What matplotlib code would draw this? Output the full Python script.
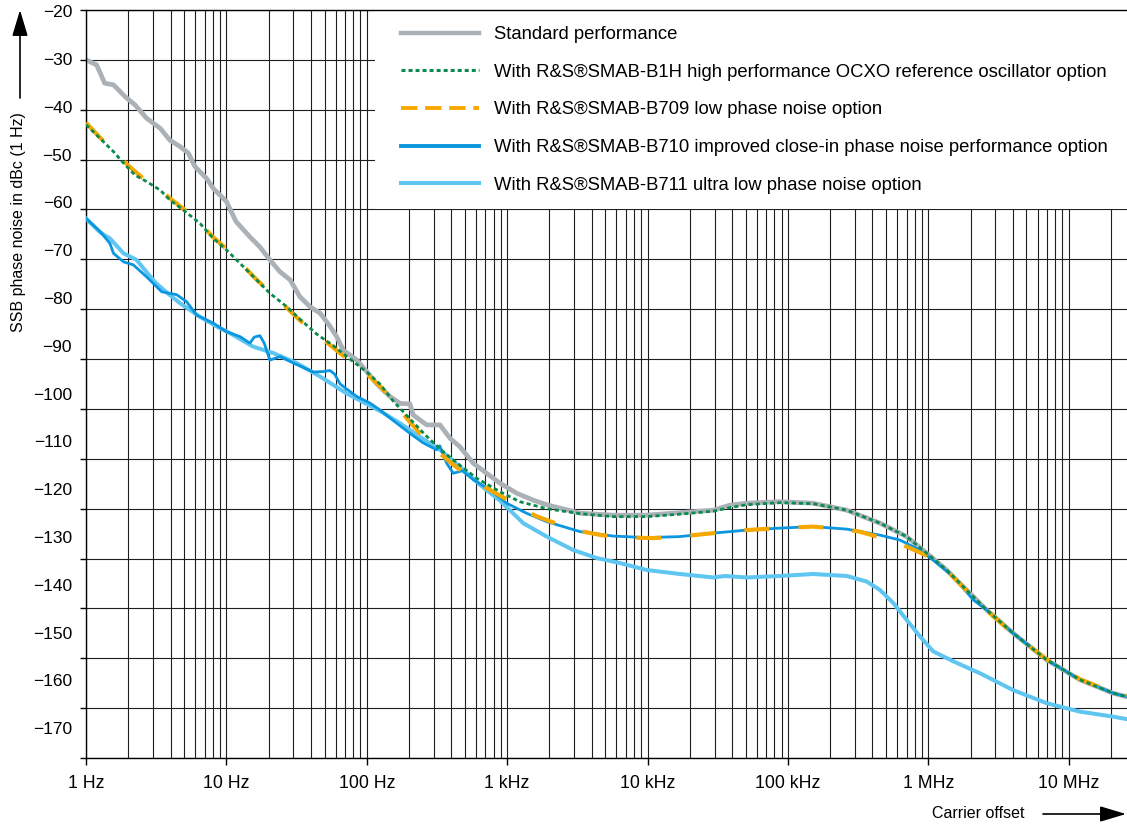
import matplotlib
matplotlib.use("Agg")
import matplotlib.pyplot as plt
import matplotlib.transforms as mtransforms
from matplotlib.lines import Line2D
from matplotlib.patches import Rectangle
from matplotlib.ticker import FixedLocator, FixedFormatter, LogLocator, NullFormatter, MultipleLocator

plt.rcParams['font.family'] = ['Liberation Sans Narrow', 'Liberation Sans', 'DejaVu Sans']

# ---------------- data (offset in Hz, SSB phase noise in dBc/Hz) ----------------
std_f = [1, 1.19, 1.36, 1.57, 1.9, 2.23, 2.7, 3.37, 3.96, 4.68, 5.36, 5.97, 7.24, 8.07,
         10, 11.7, 14.7, 17.3, 20.4, 24.1, 28.4, 33.4, 39.4, 46.5, 54, 61, 68, 85,
         100, 117, 146, 173, 203, 214, 267, 332, 392, 461, 574, 714, 889,
         1170, 1535, 1963, 3300, 5700, 9840, 17000, 29400, 38600, 50800, 87700,
         151000, 262000, 452000, 700000, 971000, 1.35e6, 1.87e6, 2.6e6, 4.03e6,
         6.95e6, 1.2e7, 2.07e7, 2.58e7]
std_db = [-30.0, -31.0, -34.7, -35.0, -37.4, -39.0, -41.7, -43.7, -46.1, -47.4, -48.7, -51.4, -53.8, -55.8,
          -58.4, -62.4, -65.5, -67.5, -70.1, -72.5, -74.1, -77.5, -79.5, -80.8, -83.2, -85.5, -88.2, -90.2,
          -92.5, -94.9, -97.5, -98.9, -99.0, -101.2, -103.2, -103.2, -105.9, -107.6, -110.9, -112.9, -114.9,
          -116.9, -118.3, -119.3, -120.9, -121.3, -121.3, -120.8, -120.3, -119.3, -118.9, -118.6,
          -118.9, -120.3, -122.9, -125.6, -128.9, -132.3, -136.3, -140.3, -145.0,
          -150.3, -154.3, -157.0, -157.7]

b1h_f = [1, 1.33, 1.57, 1.85, 2.23, 2.7, 3.37, 3.96, 4.93, 6.49, 8.07, 10, 12.5, 15.6, 20.4,
         26.9, 33.4, 44, 57.7, 75.9, 100, 124, 155, 203, 267, 351, 461, 607, 889, 1230,
         1910, 3300, 5700, 9840, 17000, 29400, 38600, 50800, 87700, 151000, 262000,
         452000, 700000, 971000, 1.35e6, 1.87e6, 2.6e6, 4.03e6, 6.95e6, 1.2e7, 2.07e7, 2.58e7]
b1h_db = [-43.0, -46.4, -48.4, -50.7, -53.1, -54.4, -56.1, -58.1, -60.1, -62.8, -65.8, -68.1, -70.8, -73.5, -76.8,
          -79.5, -82.0, -85.0, -87.3, -90.0, -92.6, -95.0, -98.5, -102.0, -105.5, -108.6, -111.3, -113.9, -116.6, -118.6,
          -120.0, -121.0, -121.6, -121.6, -121.1, -120.5, -119.8, -119.2, -118.8, -119.0, -120.3,
          -122.9, -125.6, -128.9, -132.3, -136.3, -140.3, -145.0, -150.3, -154.3, -157.0, -157.7]

b709_f = [1, 1.26, 1.58, 2.0, 2.51, 3.16, 3.98, 5.01, 6.31, 7.94, 10, 12.6, 15.8, 20.0, 25.1,
          31.6, 39.8, 50.1, 63.1, 79.4, 100, 126, 158, 200, 251, 316, 398, 501, 631, 794,
          1000, 1260, 1580, 2240, 3160, 4680, 7080, 11000, 17000, 29500, 50100, 87100,
          151000, 263000, 324000, 468000, 661000, 955000, 1.35e6, 1.87e6, 2.6e6, 4.03e6,
          6.95e6, 1.2e7, 2.07e7, 2.58e7]
b709_db = [-42.6, -45.6, -48.2, -51.2, -53.6, -55.4, -57.8, -60.0, -62.4, -65.4, -67.9, -70.7, -73.6, -76.4, -78.9,
           -81.6, -84.2, -86.3, -88.6, -90.8, -93.0, -95.6, -99.0, -102.4, -105.6, -108.4, -110.8, -113.0, -115.0, -116.6,
           -118.2, -119.9, -121.4, -123.0, -124.4, -125.3, -125.8, -125.9, -125.6, -124.9, -124.3, -123.9,
           -123.6, -124.2, -124.6, -125.9, -127.3, -129.3, -132.4, -136.4, -140.4, -145.1,
           -150.2, -154.2, -156.8, -157.5]

b710_f = [1, 1.26, 1.48, 1.57, 1.85, 2.17, 2.7, 3.46, 4.43, 5.21, 6.14, 8.07, 10, 12.5, 14.7,
          15.8, 17.3, 18.6, 20.4, 24.1, 30, 41.6, 49, 54.7, 58.9, 64.6, 68.1, 84.7, 105, 124,
          146, 203, 252, 314, 331, 371, 413, 479, 574, 753, 991, 1370, 1910, 3300, 5700,
          9840, 17000, 29400, 50800, 87700, 151000, 262000, 452000, 628000, 871000,
          1.08e6, 1.5e6, 2.09e6, 2.6e6, 4.03e6, 6.95e6, 1.2e7, 2.07e7, 2.58e7]
b710_db = [-61.8, -64.4, -66.8, -68.8, -70.5, -71.1, -73.5, -76.5, -77.1, -78.5, -81.2, -82.8, -84.5, -85.5, -86.8,
           -85.6, -85.3, -86.8, -90.2, -89.5, -90.8, -92.6, -92.5, -92.3, -93.0, -95.0, -95.5, -97.5, -98.8, -100.2,
           -101.8, -104.9, -106.8, -108.2, -107.4, -110.9, -112.9, -112.4, -114.2, -116.2, -118.9, -120.9, -122.6, -124.6, -125.5,
           -125.8, -125.6, -124.9, -124.3, -123.9, -123.6, -124.1, -125.3, -126.3, -128.3,
           -130.3, -133.6, -138.3, -140.3, -145.0, -150.3, -154.3, -157.0, -157.7]

b711_f = [1, 1.26, 1.48, 1.85, 2.29, 2.69, 3.16, 3.89, 4.68, 6.46, 8.32, 10.6, 15.5, 21.6, 31.6,
          46.5, 71.9, 124, 173, 239, 332, 461, 640, 889, 1110, 1300, 1910, 2960, 4340,
          6350, 9840, 17000, 29400, 35500, 50800, 87700, 151000, 262000, 363000, 452000,
          562000, 700000, 871000, 1.08e6, 1.5e6, 2.33e6, 4.03e6, 6.95e6, 1.2e7, 2.07e7, 2.58e7]
b711_db = [-61.8, -64.6, -65.8, -68.8, -70.1, -72.5, -74.8, -77.0, -78.8, -81.5, -83.3, -84.8, -87.5, -88.8, -90.8,
           -93.5, -96.9, -100.4, -102.9, -105.6, -108.2, -111.6, -115.2, -118.4, -121.0, -122.9, -125.6, -128.3, -129.9,
           -130.9, -132.3, -133.1, -133.8, -133.5, -133.8, -133.5, -133.1, -133.5, -134.6, -136.3,
           -138.9, -142.3, -145.6, -148.6, -150.6, -153.0, -156.4, -159.0, -160.7, -161.7, -162.2]

x_ticks = [1, 10, 100, 1e3, 1e4, 1e5, 1e6, 1e7]
x_tick_labels = ['1 Hz', '10 Hz', '100 Hz', '1 kHz', '10 kHz', '100 kHz', '1 MHz', '10 MHz']
y_ticks = [-20, -30, -40, -50, -60, -70, -80, -90, -100, -110, -120, -130, -140, -150, -160, -170]
y_tick_labels = ['\u2212' + str(-v) for v in y_ticks]

legend_labels = ['Standard performance',
                 'With R&S®SMAB-B1H high performance OCXO reference oscillator option',
                 'With R&S®SMAB-B709 low phase noise option',
                 'With R&S®SMAB-B710 improved close-in phase noise performance option',
                 'With R&S®SMAB-B711 ultra low phase noise option']

# ---------------- styling ----------------
C_GRAY = '#aab1b7'
C_GREEN = '#0a8a4c'
C_ORANGE = '#f6a800'
C_BLUE = '#0b96e0'
C_LBLUE = '#5fc6f2'
GRID_C = '#1e1e1e'

W, H = 1127, 824
fig = plt.figure(figsize=(W / 100, H / 100), dpi=100)
ax = fig.add_axes([86 / W, 66 / H, 1041 / W, 748 / H])

ax.set_xscale('log')
ax.set_xlim(1, 2.6e7)
ax.set_ylim(-170, -20)

ax.xaxis.set_major_locator(FixedLocator(x_ticks))
ax.xaxis.set_major_formatter(FixedFormatter(x_tick_labels))
ax.xaxis.set_minor_locator(LogLocator(base=10, subs=range(2, 10), numticks=100))
ax.xaxis.set_minor_formatter(NullFormatter())
ax.yaxis.set_major_locator(MultipleLocator(10))

ax.set_axisbelow(True)
ax.grid(True, which='both', axis='x', color=GRID_C, lw=0.8)
ax.grid(True, which='major', axis='y', color=GRID_C, lw=0.8)

ax.tick_params(axis='x', which='major', length=5, width=1, direction='out', pad=7, labelsize=12.8)
ax.tick_params(axis='x', which='minor', length=0)
ax.tick_params(axis='y', which='major', length=4, width=1, direction='out', labelleft=False)
for s in ['left', 'bottom', 'top']:
    ax.spines[s].set_linewidth(1.0)
    ax.spines[s].set_color('black')
ax.spines['right'].set_visible(False)

# white legend area covering the grid
x0 = (375 - 86) / 1041
trans = mtransforms.blended_transform_factory(ax.transAxes, ax.transData)
ax.add_patch(Rectangle((x0, -59.85), 1 - x0, 39.85, transform=trans,
                       facecolor='white', edgecolor='none', zorder=1))

ax.plot(std_f, std_db, color=C_GRAY, lw=3.4, zorder=2, solid_joinstyle='round')
ax.plot(b711_f, b711_db, color=C_LBLUE, lw=2.9, zorder=3, solid_joinstyle='round')
ax.plot(b710_f, b710_db, color=C_BLUE, lw=2.0, zorder=4, solid_joinstyle='round')
ax.plot(b709_f, b709_db, color=C_ORANGE, lw=3.0, dashes=(6, 7), zorder=5)
ax.plot(b1h_f, b1h_db, color=C_GREEN, lw=2.0, dashes=(1.5, 1.1), zorder=6)

handles = [Line2D([], [], color=C_GRAY, lw=3.2),
           Line2D([], [], color=C_GREEN, lw=2.2, dashes=(1.3, 1.0)),
           Line2D([], [], color=C_ORANGE, lw=2.8, dashes=(4.2, 2.0)),
           Line2D([], [], color=C_BLUE, lw=2.8),
           Line2D([], [], color=C_LBLUE, lw=2.9)]
ax.legend(handles, legend_labels, loc='upper left', bbox_to_anchor=((401 - 86) / 1041, 0.9786),
          frameon=False, borderpad=0, borderaxespad=0, handlelength=4.2, handletextpad=0.82,
          labelspacing=1.12, fontsize=13.3)

# y tick labels (placed as in the reference artwork)
ax2 = fig.add_axes(ax.get_position(), frameon=False)
ax2.set_ylim(-176.23, -19.75)
ax2.set_yticks(y_ticks)
ax2.set_yticklabels(y_tick_labels)
ax2.set_xticks([])
ax2.tick_params(axis='y', length=0, pad=10, labelsize=12.5)
ax2.patch.set_visible(False)

# axis titles with arrows
fig.text(19 / W, 1 - 222 / H, 'SSB phase noise in dBc (1 Hz)', rotation=90,
         ha='center', va='center', fontsize=11.5)
ax.annotate('', xy=(20, H - 10), xytext=(20, H - 98), xycoords='figure pixels',
            textcoords='figure pixels',
            arrowprops=dict(arrowstyle='-|>,head_length=1.0,head_width=0.3', mutation_scale=16,
                            lw=1.2, color='black', shrinkA=0, shrinkB=0))
fig.text(1025 / W, 11 / H, 'Carrier offset', ha='right', va='center', fontsize=11.5)
ax.annotate('', xy=(1126, 10), xytext=(1043, 10), xycoords='figure pixels',
            textcoords='figure pixels',
            arrowprops=dict(arrowstyle='-|>,head_length=1.0,head_width=0.3', mutation_scale=16,
                            lw=1.2, color='black', shrinkA=0, shrinkB=0))

fig.savefig('out.png', dpi=100)
